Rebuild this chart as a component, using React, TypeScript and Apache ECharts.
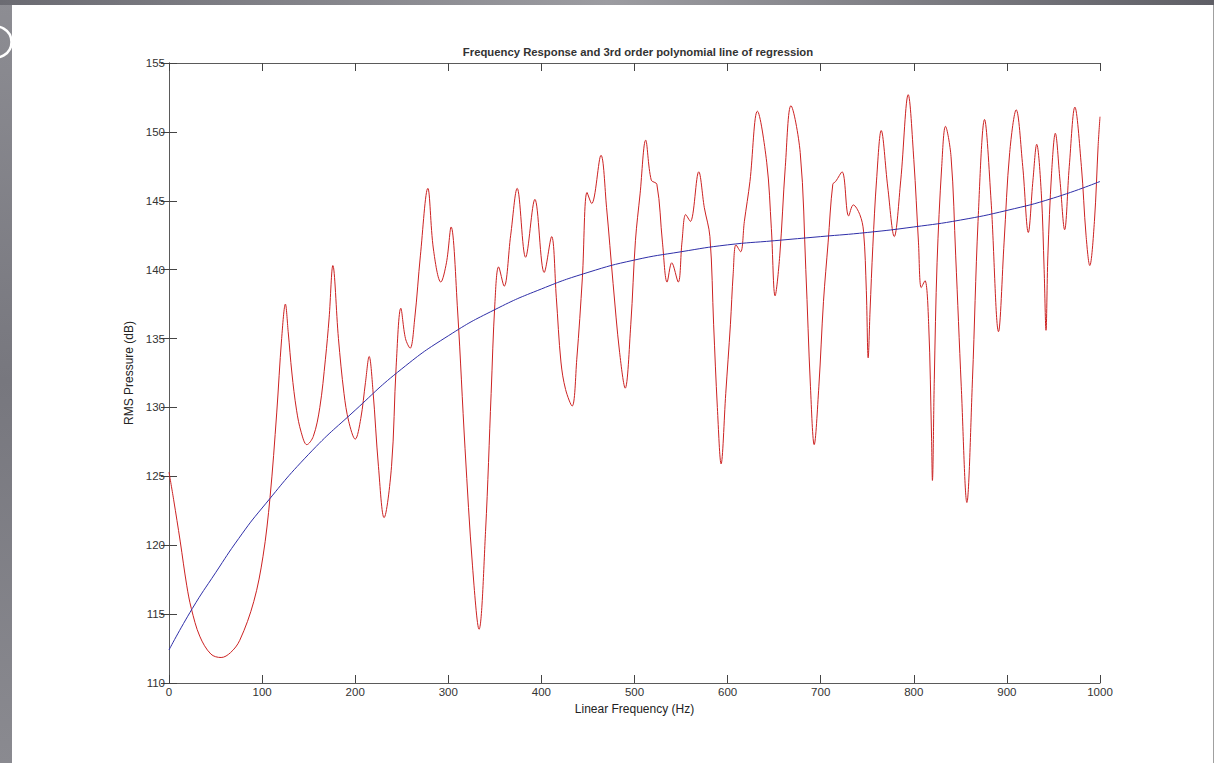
import React, { useEffect, useRef } from "react";
import * as echarts from "echarts";

// Measured response (Hz, dB)
const respFreq = [
  0, 5, 12, 19, 24, 33, 45, 56, 66, 76, 91, 101, 108.5, 115.7, 121, 125, 128, 132, 137, 142,
  148, 155, 162, 168, 172, 176, 182, 188, 193, 200, 206, 211, 215, 219, 225, 231, 239, 244, 249, 254,
  259, 264, 270, 278, 284, 292, 298, 303, 310, 318, 326, 333, 340, 346, 350, 354, 360, 367, 374, 383,
  393, 403, 411, 416, 421, 426, 433, 438, 444, 449, 454, 464, 470, 477, 484, 490, 496, 501, 506, 512,
  518, 524, 530, 535, 540, 547, 551, 555, 560, 569, 575, 581, 585, 589, 593, 598, 603, 606, 609, 614,
  618, 624, 632, 642, 647, 651, 656, 662, 668, 678, 684, 689, 693, 698, 703, 708, 713, 716, 723, 730,
  735, 742, 746, 749, 751, 753, 756, 760, 765, 772, 779, 786, 794, 800, 805, 808, 812, 816, 819, 820,
  822, 825, 830, 834, 840, 845, 851, 857, 863, 869, 876, 883, 891, 897, 903, 910, 917, 923, 928, 932,
  937, 940, 942, 944, 948, 952, 957, 962, 967, 973, 980, 985, 989, 994, 998, 1000,
];
const respDb = [
  125.3, 123.3, 120.3, 117.1, 115.4, 113.4, 112.1, 111.85, 112.2, 113.1, 115.9, 119.2, 123.45, 129.6, 135.0, 137.5, 135.5, 132.5, 129.8, 128.2,
  127.3, 127.9, 130.0, 133.5, 136.5, 140.3, 135.0, 131.0, 129.0, 127.7, 129.2, 131.8, 133.7, 131.3, 125.7, 122.0, 125.7, 133.0, 137.2, 135.0,
  134.3, 136.5, 141.0, 145.9, 141.5, 139.1, 140.5, 143.1, 137.0, 127.0, 118.5, 113.9, 121.0, 131.0, 137.5, 140.2, 138.8, 142.5, 145.9, 140.9,
  145.1, 139.8, 142.4, 138.0, 133.3, 131.3, 130.1, 133.5, 139.4, 145.6, 144.8, 148.3, 144.5, 139.0, 134.0, 131.4, 136.0, 142.1, 145.5, 149.4,
  146.5, 146.2, 142.0, 139.1, 140.5, 139.1, 142.0, 144.0, 143.5, 147.1, 144.5, 142.4, 136.0, 130.0, 125.9, 131.0, 136.0, 139.7, 141.8, 141.3,
  143.5, 146.4, 151.5, 147.8, 143.0, 138.1, 141.0, 147.5, 151.9, 148.5, 140.0, 131.5, 127.3, 131.5, 137.7, 142.0, 146.2, 146.4, 147.1, 143.9,
  144.7, 144.0, 142.8, 138.5, 133.6, 137.0, 141.7, 146.5, 150.1, 146.0, 142.4, 146.5, 152.7, 148.0, 142.0, 138.7, 139.2, 136.0, 128.0, 124.7,
  132.0, 140.5, 147.5, 150.4, 148.2, 141.0, 131.5, 123.1, 132.0, 143.5, 150.9, 145.0, 135.5, 142.0, 148.5, 151.6, 147.5, 142.7, 146.5, 149.1,
  145.5, 140.0, 135.6, 141.0, 147.0, 149.9, 146.5, 142.9, 147.5, 151.8, 147.5, 142.5, 140.3, 143.5, 149.0, 151.1,
];

// 3rd order polynomial regression line
const fitFreq = [0, 25, 50, 75, 100, 150, 200, 250, 300, 350, 400, 450, 500, 550, 600, 650, 700, 750, 800, 850, 900, 950, 1000];
const fitDb = [112.4, 115.4, 118.0, 120.5, 122.7, 126.6, 129.8, 132.8, 135.2, 137.1, 138.6, 139.8, 140.7, 141.3, 141.8, 142.1, 142.4, 142.7, 143.1, 143.6, 144.3, 145.2, 146.4];

const titleText = "Frequency Response and 3rd order polynomial line of regression";
const xName = "Linear Frequency (Hz)";
const yName = "RMS Pressure (dB)";

const FONT = "'Liberation Sans', Arial, Helvetica, sans-serif";

export default function App() {
  const ref = useRef<HTMLDivElement>(null);
  useEffect(() => {
    if (!ref.current) return;
    const chart = echarts.init(ref.current, null, { renderer: "svg" });
    const axisLine = { show: true, lineStyle: { color: "#5a5a5a", width: 1 } };
    const tick = { show: true, inside: true, length: 8, lineStyle: { color: "#444", width: 1 } };
    const label = { color: "#333", fontSize: 11.5, fontFamily: FONT };
    chart.setOption({
      animation: false,
      backgroundColor: "#ffffff",
      graphic: [
        { type: "rect", z: -10, shape: { x: 0, y: 0, width: 1214, height: 763 },
          style: { fill: new echarts.graphic.LinearGradient(0, 0, 0, 1, [
            { offset: 0, color: "#8d8d93" }, { offset: 0.5, color: "#77777e" }, { offset: 1, color: "#8a8a90" }]) } },
        { type: "rect", z: -10, shape: { x: 0, y: 0, width: 1214, height: 5 },
          style: { fill: new echarts.graphic.LinearGradient(0, 0, 1, 0, [
            { offset: 0, color: "#6b6b72" }, { offset: 0.5, color: "#9c9ca1" }, { offset: 1, color: "#5f5f66" }]) } },
        { type: "rect", z: -9, shape: { x: 12, y: 5, width: 1201, height: 758 }, style: { fill: "#ffffff" } },
        { type: "line", z: -8, shape: { x1: 1213.5, y1: 5, x2: 1213.5, y2: 763 }, style: { stroke: "#a0a0a0", lineWidth: 1 } },
        { type: "circle", z: -9.5, shape: { cx: -4, cy: 42, r: 15.5 }, style: { fill: "none", stroke: "#ffffff", lineWidth: 2.5 } },
      ],
      title: {
        text: titleText,
        left: 633, top: 41, textAlign: "center",
        textStyle: { fontSize: 11.3, fontWeight: "bold", color: "#333", fontFamily: FONT },
      },
      grid: { left: 169, right: 114, top: 63, bottom: 80, containLabel: false, outerBoundsMode: "none" },
      xAxis: [
        {
          type: "value", min: 0, max: 1000, interval: 100, position: "bottom",
          name: xName, nameLocation: "middle", nameGap: 16,
          nameTextStyle: { fontSize: 12, color: "#222", fontFamily: FONT },
          axisLine, axisTick: tick,
          axisLabel: { ...label, margin: 3, formatter: (v: number) => String(v) },
          splitLine: { show: false },
        },
        {
          type: "value", min: 0, max: 1000, interval: 100, position: "top",
          axisLine, axisTick: tick, axisLabel: { show: false }, splitLine: { show: false },
        },
      ],
      yAxis: [
        {
          type: "value", min: 110, max: 155, interval: 5, position: "left",
          name: yName, nameLocation: "middle", nameGap: 27, nameRotate: 90,
          nameTextStyle: { fontSize: 12, color: "#222", fontFamily: FONT },
          axisLine, axisTick: tick, axisLabel: { ...label, margin: 4 }, splitLine: { show: false },
        },
        {
          type: "value", min: 110, max: 155, interval: 5, position: "right",
          axisLine, axisTick: tick, axisLabel: { show: false }, splitLine: { show: false },
        },
      ],
      series: [
        {
          type: "line", name: "Response", xAxisIndex: 0, yAxisIndex: 0,
          data: respFreq.map((f, i) => [f, respDb[i]]),
          smooth: 0.35, showSymbol: false, symbol: "none",
          lineStyle: { color: "#cc2222", width: 1 },
        },
        {
          type: "line", name: "Fit", xAxisIndex: 0, yAxisIndex: 0,
          data: fitFreq.map((f, i) => [f, fitDb[i]]),
          smooth: 0.5, showSymbol: false, symbol: "none",
          lineStyle: { color: "#2e2ea8", width: 1 },
        },
      ],
    });
    return () => chart.dispose();
  }, []);
  return <div ref={ref} style={{ position: "absolute", left: 0, top: 0, width: 1214, height: 763 }} />;
}
